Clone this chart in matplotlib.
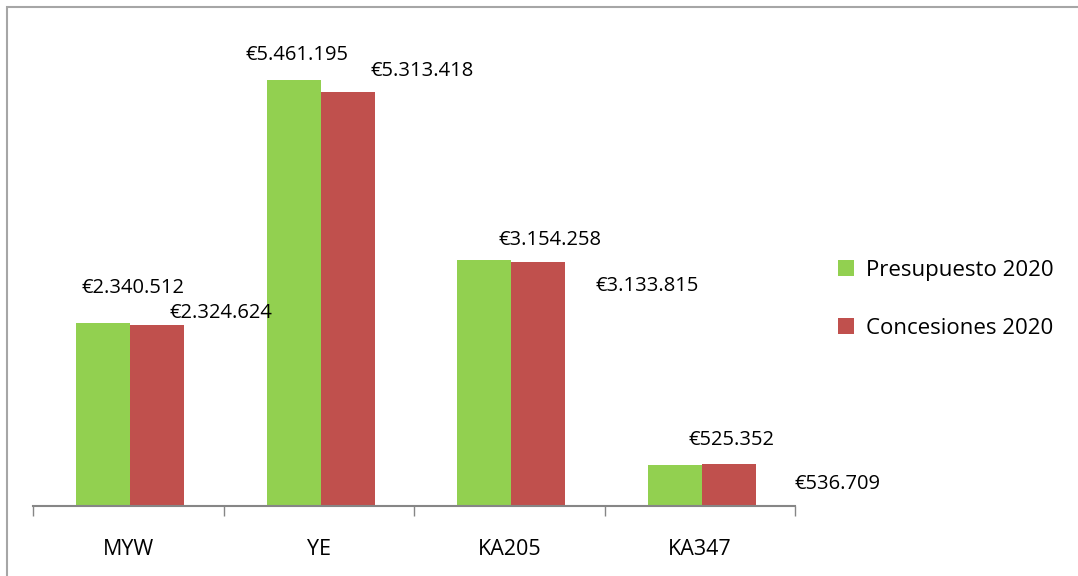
import matplotlib
matplotlib.use("Agg")
import matplotlib.pyplot as plt
from matplotlib.patches import Rectangle
import numpy as np

categories = ["MYW", "YE", "KA205", "KA347"]
presupuesto = [2340512, 5461195, 3154258, 525352]
concesiones = [2324624, 5313418, 3133815, 536709]
series_names = ["Presupuesto 2020", "Concesiones 2020"]

def fmt(v):
    return "€" + f"{v:,}".replace(",", ".")

plt.rcParams['font.family'] = ['Open Sans', 'DejaVu Sans']

W, H = 1078, 576
fig = plt.figure(figsize=(W/100, H/100), dpi=100)
ax_left, ax_right, ax_bottom, ax_top = 33, 795, 506, 22
ax = fig.add_axes([ax_left/W, (H-ax_bottom)/H, (ax_right-ax_left)/W, (ax_bottom-ax_top)/H])

green = "#92D050"
red = "#C0504D"
x = np.arange(len(categories))
bw = 0.283
b1 = ax.bar(x - bw/2 + 0.01, presupuesto, bw, color=green, label=series_names[0])
b2 = ax.bar(x + bw/2 + 0.01, concesiones, bw, color=red, label=series_names[1])

ax.set_xlim(-0.5, 3.5)
ax.set_ylim(0, 6.205e6)
for s in ["left", "right", "top"]:
    ax.spines[s].set_visible(False)
ax.spines["bottom"].set_color("#868686")
ax.spines["bottom"].set_linewidth(1.5)
ax.set_yticks([])
ax.set_xticks(x)
ax.set_xticklabels(categories, fontsize=15.5)
ax.tick_params(axis="x", which="major", length=0, pad=24)
ax.set_xticks(np.arange(-0.5, 4, 1), minor=True)
ax.tick_params(axis="x", which="minor", length=7, width=1, color="#868686", direction="out")

# label offsets in pixels (dx, dy) relative to top-center of each bar
off_p = [(30, 35), (3, 25), (66, 20), (57, 25)]
off_c = [(64, 12), (75, 21), (109, -24), (109, -20)]
for i in range(len(categories)):
    for bar, val, off in ((b1[i], presupuesto[i], off_p[i]), (b2[i], concesiones[i], off_c[i])):
        ax.annotate(fmt(val), xy=(bar.get_x() + bar.get_width()/2, val),
                    xytext=(off[0]*0.72, off[1]*0.72), textcoords="offset points",
                    ha="center", va="center", fontsize=14.5, color="black")

leg = fig.legend(handles=[b1, b2], labels=series_names, loc="upper left",
                 bbox_to_anchor=(818/W, 1-240/H), frameon=False, fontsize=16,
                 handlelength=0.72, handleheight=0.72, handletextpad=0.55, labelspacing=1.65)

fig.patches.append(Rectangle((7/W, -0.05), 1.2, 1 - 7/H + 0.05, transform=fig.transFigure,
                             fill=False, edgecolor="#A6A6A6", linewidth=1.5))

fig.savefig("out.png", dpi=100)
